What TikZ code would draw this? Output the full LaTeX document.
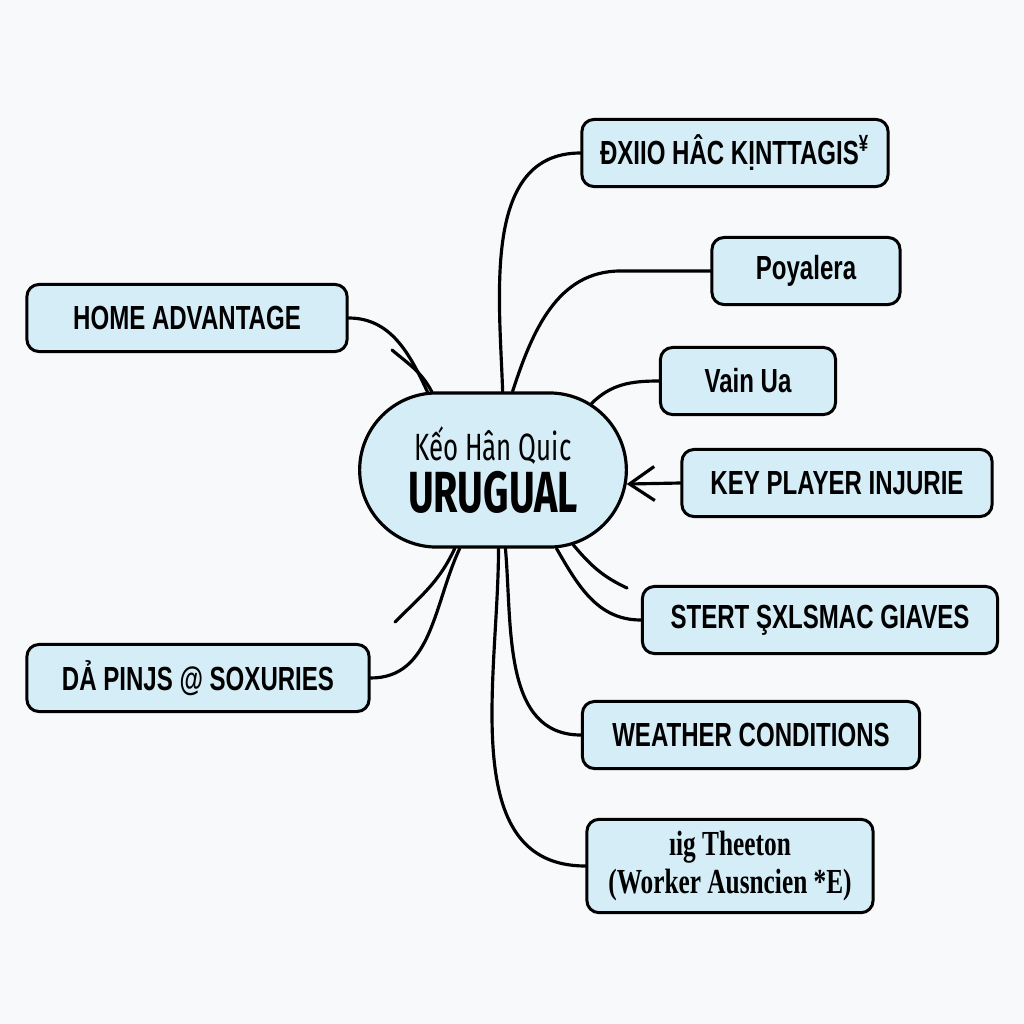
\documentclass[tikz,border=0pt]{standalone}
\usepackage{fontspec}
\setmainfont{Liberation Sans}
\newfontfamily\leaffont{Liberation Sans}[FakeStretch=0.72]
\newfontfamily\serifleaf{Liberation Serif}[FakeStretch=0.72]
\newfontfamily\hubfont{Fira Sans}[FakeStretch=0.68]
\usetikzlibrary{shapes.misc,arrows.meta}
\definecolor{leafblue}{RGB}{212,237,247}
\definecolor{paper}{RGB}{248,249,250}

\begin{document}
\begin{tikzpicture}[x=0.01cm,y=0.01cm,
    leaf/.style={draw=black,line width=0.85pt,fill=leafblue,rounded corners=0.12cm,
      minimum height=0.67cm,align=center,font=\leaffont\bfseries\fontsize{9.5}{11}\selectfont},
    hub/.style={rounded rectangle,draw=black,line width=0.9pt,fill=leafblue,
      minimum width=2.9cm,minimum height=1.54cm,align=center},
    link/.style={line width=0.9pt,line cap=round}]
    \fill[paper] (0,-1024) rectangle (1024,0);
    \useasboundingbox (0,-1024) rectangle (1024,0);
    % centre
    \node[hub] (hub) at (493,-470) {{\hubfont\fontsize{10.8}{12}\selectfont Kếo Hân Quic}\\[1pt]
      {\hubfont\bfseries\fontsize{16.5}{18}\selectfont URUGUAL}};
    % leaves
    \foreach \n/\x/\y/\w/\t in {b1/735/-153/3.06/{ĐXIIO HÂC KỊNTTAGIS\textsuperscript{¥}},
        b2/806/-271/1.88/{Poyalera}, b3/748/-381/1.75/{Vain Ua},
        b4/837/-483/3.10/{KEY PLAYER INJURIE}, b5/820/-620/3.55/{STERT ŞXLSMAC GIAVES},
        b6/751/-735/3.37/{WEATHER CONDITIONS}, b8/187/-318/3.20/{HOME ADVANTAGE},
        b9/198/-678/3.42/{DẢ PINJS @ SOXURIES}}
        \node[leaf,minimum width=\w cm] (\n) at (\x,\y) {\t};
    \node[leaf,minimum width=2.86cm,minimum height=0.88cm,
      font=\serifleaf\bfseries\fontsize{10}{10.8}\selectfont] (b7) at (730,-866)
      {ıig Theeton\\(Worker Ausncien *E)};
    % loose strokes
    \coordinate (sH) at (392,-350);
    \coordinate (sF) at (627,-588);
    \coordinate (sA) at (395,-622);
    % links
    \draw[link] (b8.east) to[out=0,in=115] (hub.130);
    \draw[link] (sH) to[out=-40,in=118] (hub.128);
    \draw[link] (b1.west) to[out=180,in=92] (hub.83);
    \draw[link] (b2.west) -- ++(-90,0) to[out=180,in=72] (hub.76);
    \draw[link] (b3.west) to[out=180,in=45] (hub.34);
    \draw[link,-{Straight Barb[length=0.25cm,width=0.34cm]}] (b4.west) -- (hub.-6);
    \draw[link] (hub.-51) to[out=-60,in=180] (b5.west);
    \draw[link] (hub.-43) to[out=-50,in=155] (sF);
    \draw[link] (hub.-81) to[out=-85,in=180] (b6.west);
    \draw[link] (hub.-86) to[out=-90,in=180] (b7.west);
    \draw[link] (hub.-116) to[out=-115,in=45] (sA);
    \draw[link] (hub.-113) to[out=-115,in=0] (b9.east);
\end{tikzpicture}
\end{document}
